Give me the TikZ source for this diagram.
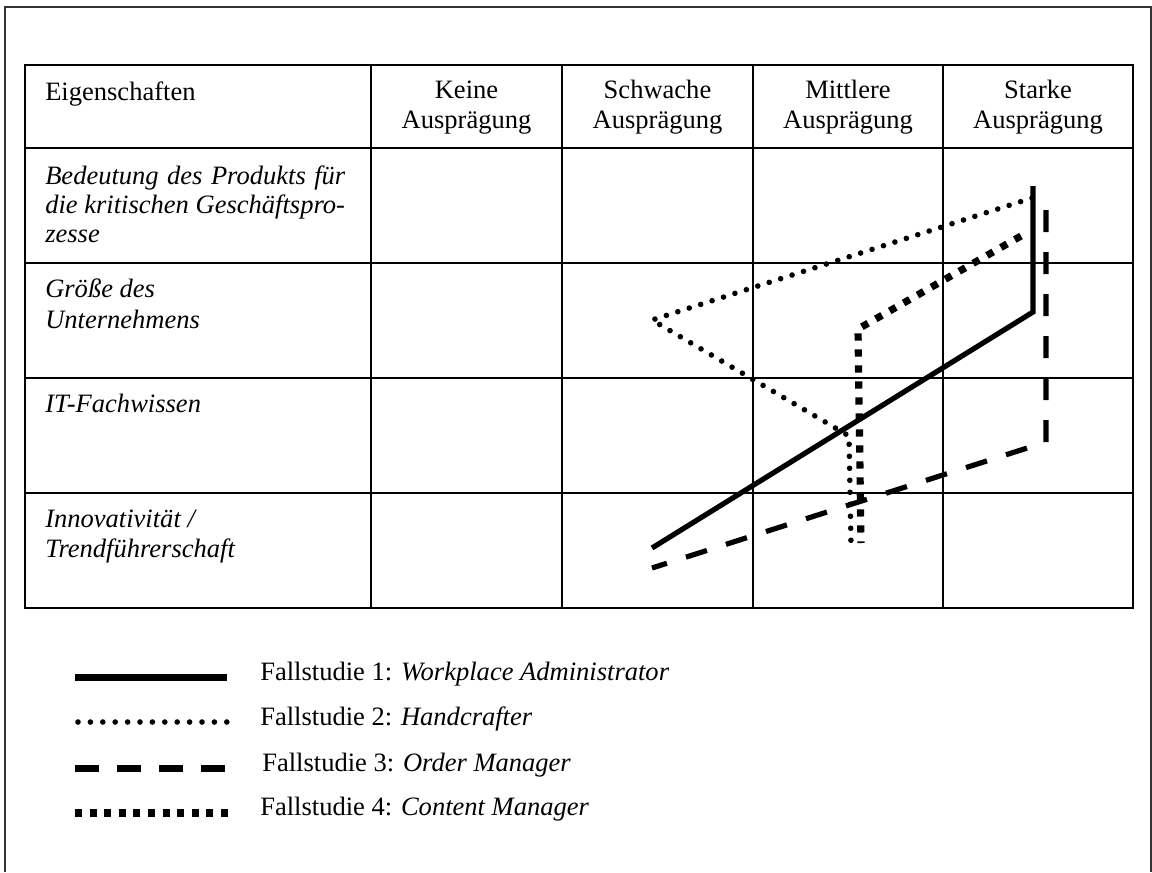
\documentclass[tikz,border=0pt]{standalone}
\usepackage{fontspec}
\setmainfont{Liberation Serif}
\begin{document}
\begin{tikzpicture}[x=0.75pt,y=-0.75pt,
  grid/.style={line width=1.5pt, black},
  frameline/.style={line width=1.5pt, black!80},
  lbl/.style={inner sep=0pt, anchor=base west, font=\fontsize{19.9pt}{22.5pt}\selectfont},
  hdr/.style={inner sep=0pt, anchor=base, font=\fontsize{19.9pt}{22.5pt}\selectfont},
  caseone/.style={line width=3.9pt},
  casetwo/.style={line width=4.2pt, line cap=round, dash pattern=on 0pt off 9pt},
  casethree/.style={line width=3.9pt, dash pattern=on 16.5pt off 15pt},
  casefour/.style={line width=5.4pt, dash pattern=on 5.4pt off 6.6pt},
]
\useasboundingbox (0,0) rectangle (1152,872);

% outer frame (open at the bottom edge)
\draw[frameline] (5,872) -- (5,7) -- (1151,7) -- (1151,872);

% table grid
\draw[grid] (25,65) rectangle (1133,608);
\foreach \x in {371,562,753,943} \draw[grid] (\x,65) -- (\x,608);
\foreach \y in {148,263,378,493} \draw[grid] (25,\y) -- (1133,\y);

% header row
\node[lbl] (hEig) at (45,100) {Eigenschaften};
\node[hdr] (hK1) at (466.5,98) {Keine};
\node[hdr] (hK2) at (466.5,128) {Ausprägung};
\node[hdr] (hS1) at (657.5,98) {Schwache};
\node[hdr] (hS2) at (657.5,128) {Ausprägung};
\node[hdr] (hM1) at (848,98) {Mittlere};
\node[hdr] (hM2) at (848,128) {Ausprägung};
\node[hdr] (hT1) at (1038,98) {Starke};
\node[hdr] (hT2) at (1038,128) {Ausprägung};

% row labels
\node[lbl] (rA1) at (45,184) {\itshape\makebox[225pt][s]{Bedeutung des Produkts für}};
\node[lbl] (rA2) at (45,213) {\itshape die kritischen Geschäftspro-};
\node[lbl] (rA3) at (45,242) {\itshape zesse};
\node[lbl] (rB1) at (45,297) {\itshape Größe des};
\node[lbl] (rB2) at (45,328) {\itshape Unternehmens};
\node[lbl] (rC1) at (45,412) {\itshape IT-Fachwissen};
\node[lbl] (rD1) at (45,527) {\itshape Innovativität /};
\node[lbl] (rD2) at (45,557) {\itshape Trendführerschaft};

% profile points
\coordinate (s1) at (652,548);
\coordinate (s2) at (1033,312);
\coordinate (s3) at (1033,186);
\coordinate (d1) at (1032,198);
\coordinate (d2) at (652,320);
\coordinate (d3) at (849,436);
\coordinate (d4) at (851,545);
\coordinate (m1) at (1046,210);
\coordinate (m2) at (1046,442);
\coordinate (m3) at (652,568);
\coordinate (q1) at (1021,236);
\coordinate (q2) at (858,329);
\coordinate (q3) at (861,543);

% profiles
\draw[caseone] (s1) -- (s2) -- (s3);
\draw[casetwo] (d1) -- (d2) -- (d3) -- (d4);
\draw[casethree] (m1) -- (m2) -- (m3);
\draw[casefour] (q1) -- (q2) -- (q3);

% legend
\coordinate (la1) at (75,677);  \coordinate (la2) at (227,677);
\coordinate (lb1) at (78,722);  \coordinate (lb2) at (227,722);
\coordinate (lc1) at (75,768);  \coordinate (lc2) at (225,768);
\coordinate (ld1) at (75,813);  \coordinate (ld2) at (228,813);
\draw[caseone, line width=5.25pt] (la1) -- (la2);
\draw[casetwo, dash pattern=on 0pt off 9.3pt] (lb1) -- (lb2);
\draw[casethree, line width=5.25pt, dash pattern=on 18pt off 13.5pt] (lc1) -- (lc2);
\draw[casefour, dash pattern=on 5.25pt off 5.7pt] (ld1) -- (ld2);
\node[lbl] (t1) at (260,680) {Fallstudie 1: \textit{Workplace Administrator}};
\node[lbl] (t2) at (260,725) {Fallstudie 2: \textit{Handcrafter}};
\node[lbl] (t3) at (262,771) {Fallstudie 3: \textit{Order Manager}};
\node[lbl] (t4) at (260,815) {Fallstudie 4: \textit{Content Manager}};
\end{tikzpicture}
\end{document}
